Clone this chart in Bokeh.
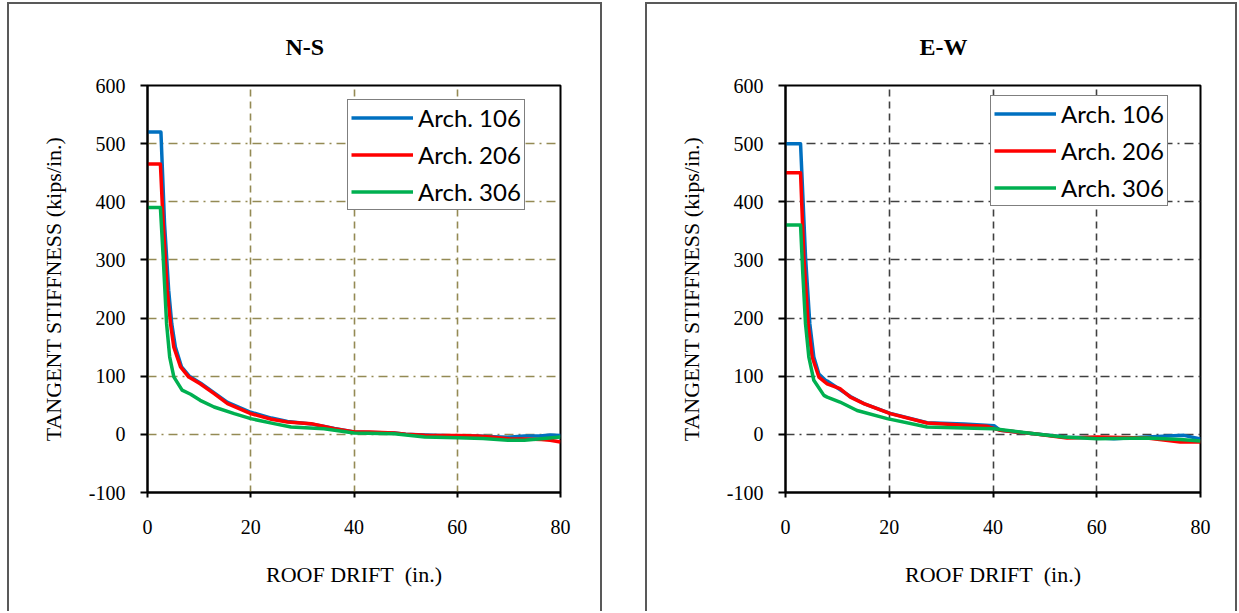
from bokeh.plotting import figure
from bokeh.models import Legend, LegendItem, FixedTicker, Range1d, Spacer
from bokeh.layouts import row, column
from bokeh.embed import file_html
from bokeh.resources import INLINE

# ---------------- data ----------------
x_ticks = [0, 20, 40, 60, 80]
y_ticks = [-100, 0, 100, 200, 300, 400, 500, 600]
series_names = ["Arch. 106", "Arch. 206", "Arch. 306"]

# N-S panel
ns_106_x = [0, 2.6, 3.3, 4.1, 4.7, 5.4, 6.6, 8.1, 10.3, 13, 15.5, 20, 24, 27.1, 31.7, 34, 36.2, 40, 43, 47.8, 50, 53.7, 57, 60, 64, 67, 69.8, 73, 76, 78, 80]
ns_106_y = [520, 520, 362, 248, 190, 150, 116, 100, 88, 71, 55, 38, 28, 22, 18, 14, 10, 4, 3, 2.3, 0, -1, -2, -3, -3, -4, -5, -3, -3, -1, -2]
ns_206_x = [0, 2.5, 3.04, 3.82, 4.47, 5.1, 6.4, 8.0, 10.2, 12.9, 15.5, 20, 24, 27.1, 31.7, 34, 36.2, 40.1, 43, 47.8, 50, 53.7, 57, 60, 64, 67, 69.8, 73, 76.3, 78, 80]
ns_206_y = [465, 465, 362, 248, 190, 150, 116, 98.6, 87, 70, 52.8, 35.6, 26, 21.2, 18.4, 14, 9.7, 4, 4, 2.3, 0, -1.7, -2, -2, -3, -5, -7.5, -8, -9, -10, -13]
ns_306_x = [0, 2.5, 3.04, 3.7, 4.3, 5.1, 6.7, 8.35, 10.2, 12.9, 16.8, 20, 24.5, 27.8, 34.2, 40, 47.8, 53.7, 60.1, 65, 69.8, 73, 76.3, 80]
ns_306_y = [390, 390, 305, 190, 133, 99, 76, 69, 58.5, 47, 35.6, 27, 18.4, 12.6, 9.7, 2.3, 1.1, -4.6, -5.7, -7, -10, -10, -7.5, -4.6]

# E-W panel
ew_106_x = [0, 2.9, 3.86, 4.69, 5.46, 6.43, 7.7, 8.03, 12.5, 15.1, 20.2, 27.3, 34.4, 40.2, 41.4, 47.9, 54.3, 60.1, 63.3, 69.7, 76.8, 80]
ew_106_y = [500, 500, 305, 190, 133, 104, 93, 91.7, 65, 53, 36, 20, 18, 15, 6.9, 1.1, -5, -6, -7.5, -4.6, -1.7, -8]
ew_206_x = [0, 2.9, 3.53, 4.37, 5.14, 6.43, 8.03, 10.5, 12.5, 15.1, 20.2, 27.3, 34.4, 38.9, 41.4, 47.9, 54.3, 60.1, 69.7, 76.1, 80]
ew_206_y = [450, 450, 305, 190, 133, 98.6, 87, 78.6, 64, 52.8, 35.6, 19.5, 15.5, 13.8, 6.9, 1.1, -6.3, -4.6, -6.3, -13, -13]
ew_306_x = [0, 2.9, 3.34, 3.86, 4.5, 5.46, 7.4, 8.03, 10.5, 13.8, 19.6, 27.3, 34.4, 40.2, 47.9, 53.6, 60.1, 69.7, 76.1, 80]
ew_306_y = [360, 360, 276, 190, 133, 93, 67, 64, 55.6, 41, 27, 12.6, 10.9, 9.8, 1.1, -4.6, -7.5, -6.3, -9, -11.5]

colors = ["#0070C0", "#FF0000", "#00B050"]


def make_panel(title, xs, ys, grid_color, width, mb_left, mb_right, legend_loc, title_offset):
    p = figure(width=width, height=609, x_range=Range1d(0, 80), y_range=Range1d(-100, 600),
               output_backend="svg", toolbar_location=None,
               min_border_left=mb_left, min_border_right=mb_right,
               min_border_top=81, min_border_bottom=121)
    p.background_fill_color = "white"
    p.border_fill_color = "white"
    p.outline_line_color = "black"
    p.outline_line_width = 2
    p.styles = {"border-top": "2px solid #595959", "border-left": "2px solid #595959",
                "border-right": "2px solid #595959"}

    p.title.text = title
    p.title.text_font = "Liberation Serif"
    p.title.text_font_size = "24px"
    p.title.text_font_style = "bold"
    p.title.text_color = "black"
    p.title.align = "left"
    p.title.offset = title_offset
    p.title.standoff = 52

    p.xaxis.ticker = FixedTicker(ticks=x_ticks)
    p.yaxis.ticker = FixedTicker(ticks=y_ticks)
    p.yaxis.major_label_overrides = {-100: "-100"}
    p.xgrid.ticker = FixedTicker(ticks=x_ticks[1:-1])
    p.ygrid.ticker = FixedTicker(ticks=y_ticks[1:-1])
    for ax in (p.xaxis[0], p.yaxis[0]):
        ax.axis_line_color = "black"
        ax.axis_line_width = 2
        ax.major_tick_line_color = "black"
        ax.major_tick_line_width = 2
        ax.minor_tick_line_color = None
        ax.major_tick_in = 0
        ax.major_label_text_font = "Liberation Serif"
        ax.major_label_text_font_size = "20px"
        ax.major_label_text_color = "black"
        ax.axis_label_text_font = "Liberation Serif"
        ax.axis_label_text_font_size = "22px"
        ax.axis_label_text_font_style = "normal"
        ax.axis_label_text_color = "black"
    p.xaxis.major_tick_out = 5
    p.yaxis.major_tick_out = 7
    p.xaxis.major_label_standoff = 22
    p.yaxis.major_label_standoff = 15
    p.xaxis.axis_label = "ROOF DRIFT\u00a0\u00a0(in.)"
    p.yaxis.axis_label = "TANGENT STIFFNESS (kips/in.)"
    p.xaxis.axis_label_standoff = 25
    p.yaxis.axis_label_standoff = 20

    p.xgrid.grid_line_color = grid_color
    p.xgrid.grid_line_width = 1.6
    p.xgrid.grid_line_dash = "7 5"
    p.ygrid.grid_line_color = grid_color
    p.ygrid.grid_line_width = 1.6
    p.ygrid.grid_line_dash = "9 5 2 5"

    items = []
    for x, y, c, name in zip(xs, ys, colors, series_names):
        r = p.line(x, y, line_color=c, line_width=3.5, line_join="round")
        items.append(LegendItem(label=name, renderers=[r]))

    legend = Legend(items=items, location=legend_loc)
    legend.label_text_font = "Lato"
    legend.label_text_font_size = "24px"
    legend.label_text_color = "black"
    legend.glyph_width = 62
    legend.glyph_height = 25
    legend.label_height = 25
    legend.label_standoff = 5
    legend.spacing = 8
    legend.padding = 3
    legend.margin = 0
    legend.border_line_color = "black"
    legend.border_line_width = 1.5
    legend.background_fill_alpha = 1
    p.add_layout(legend)
    return p


p1 = make_panel("N-S", [ns_106_x, ns_206_x, ns_306_x], [ns_106_y, ns_206_y, ns_306_y],
                "#948A54", 595, 138, 44, (200, 282), 138)
p2 = make_panel("E-W", [ew_106_x, ew_206_x, ew_306_x], [ew_106_y, ew_206_y, ew_306_y],
                "#404040", 592, 138, 39, (205, 286), 134)

layout = column(Spacer(height=2),
                row(Spacer(width=7), p1, Spacer(width=43), p2))

open("out.html", "w").write(file_html(layout, INLINE))
